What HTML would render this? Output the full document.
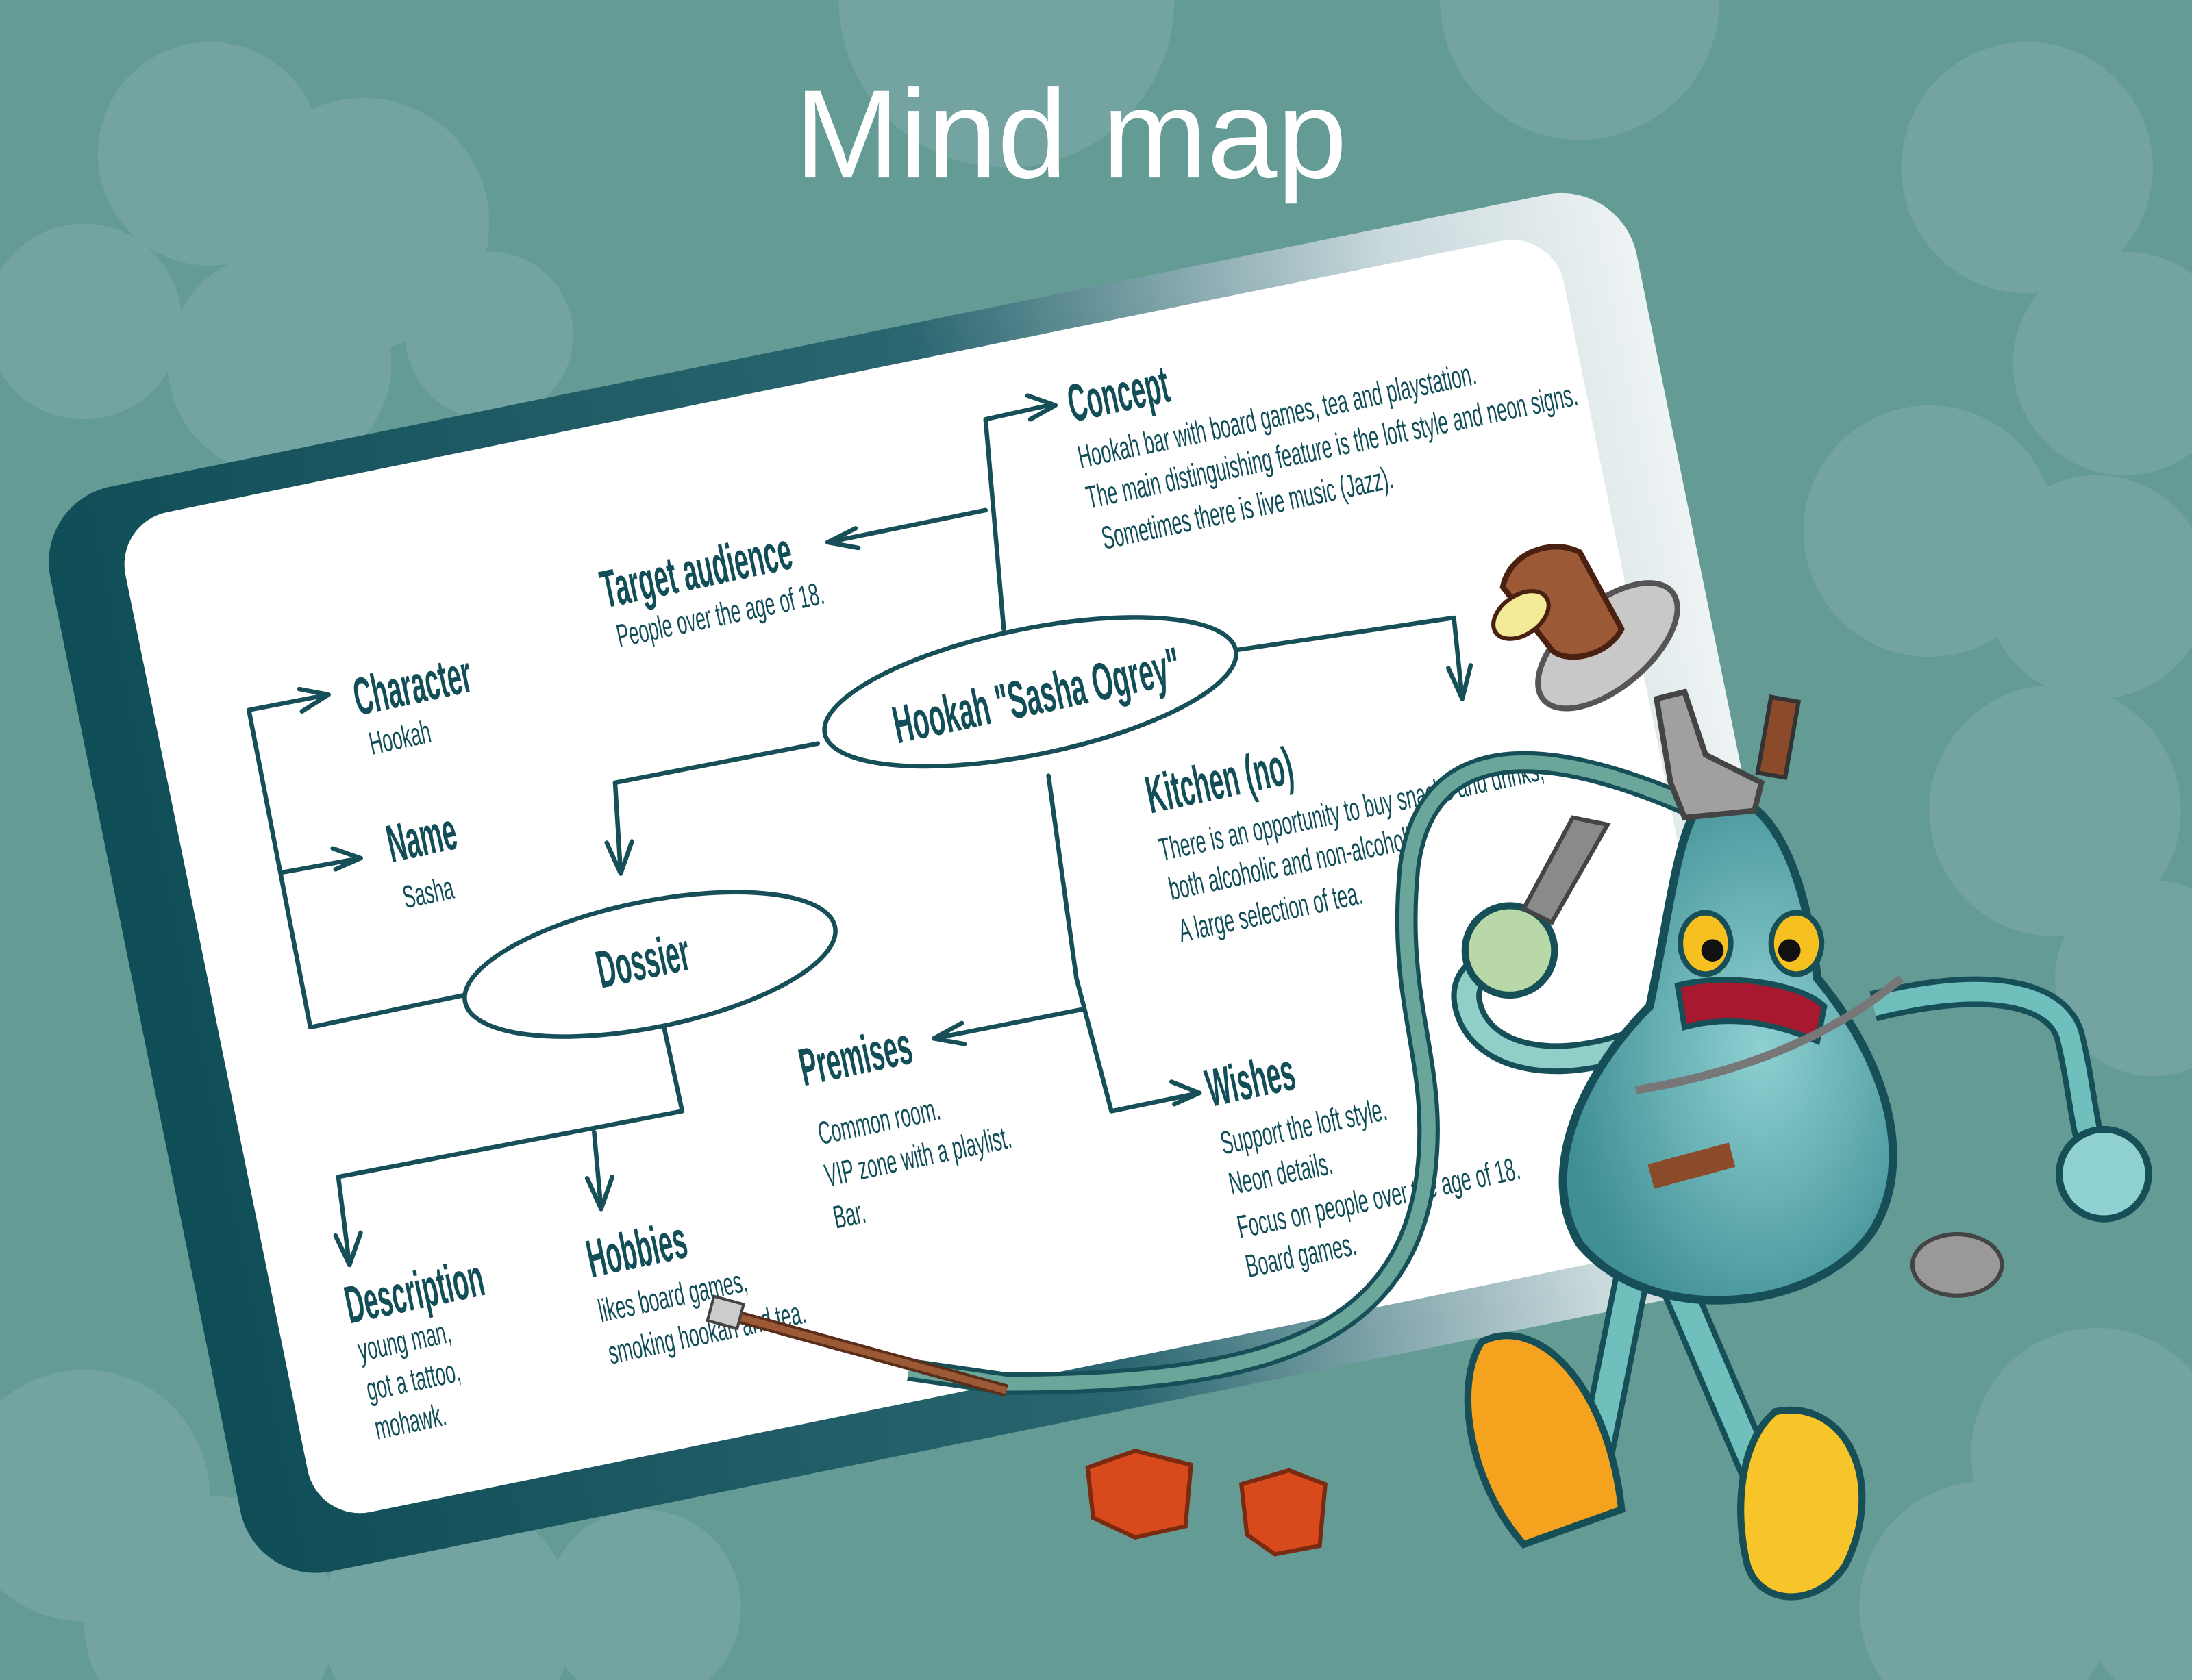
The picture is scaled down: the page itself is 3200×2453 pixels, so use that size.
<!DOCTYPE html>
<html><head><meta charset="utf-8"><style>
html,body{margin:0;padding:0;width:3200px;height:2453px;overflow:hidden;background:#649b94;}
svg{display:block}
.t{font-family:"Liberation Sans",sans-serif;fill:#124e58;font-weight:bold}
.s{font-family:"Liberation Sans",sans-serif;fill:#124e58}
.ln{fill:none;stroke:#174f58;stroke-width:3.2;stroke-linejoin:round;stroke-linecap:round}
</style></head><body>
<svg width="3200" height="2453" viewBox="0 0 1568 1202" preserveAspectRatio="none">
<defs>
<linearGradient id="fr" x1="0" y1="0" x2="1" y2="0">
<stop offset="0" stop-color="#0f4d57"/><stop offset="0.55" stop-color="#2a6670"/><stop offset="0.85" stop-color="#c9d9dc"/><stop offset="1" stop-color="#eef3f4"/></linearGradient>
<radialGradient id="bd" cx="0.6" cy="0.5" r="0.6"><stop offset="0" stop-color="#8fd0d2"/><stop offset="1" stop-color="#3f8f94"/></radialGradient>
</defs>
<rect width="1568" height="1202" fill="#649b94"/>
<g fill="#78a7a6" opacity="0.75">
<circle cx="60" cy="230" r="70"/><circle cx="150" cy="110" r="80"/><circle cx="260" cy="160" r="90"/><circle cx="350" cy="240" r="60"/><circle cx="200" cy="260" r="80"/>
<circle cx="720" cy="0" r="120"/><circle cx="1130" cy="0" r="100"/>
<circle cx="1450" cy="120" r="90"/><circle cx="1520" cy="260" r="80"/><circle cx="1380" cy="380" r="90"/><circle cx="1500" cy="420" r="80"/>
<circle cx="1470" cy="580" r="90"/><circle cx="1540" cy="700" r="70"/>
<circle cx="1500" cy="1040" r="90"/><circle cx="1420" cy="1150" r="90"/><circle cx="1560" cy="1150" r="70"/>
<circle cx="60" cy="1070" r="90"/><circle cx="150" cy="1160" r="90"/><circle cx="320" cy="1160" r="90"/><circle cx="460" cy="1150" r="70"/>
</g>
<text x="766" y="127" text-anchor="middle" font-family="Liberation Sans,sans-serif" font-size="90" fill="#ffffff">Mind map</text>
<g transform="rotate(-11.5 670 630)">
<rect x="92" y="236" width="1158" height="792" rx="55" fill="url(#fr)"/>
<rect x="145" y="262" width="1050" height="730" rx="38" fill="#ffffff"/>
</g>
<g class="ln">
<polyline points="718,450 705,300 750,290"/><polyline points="735,283 755,290 737,300"/>
<polyline points="705,365 592,388"/><polyline points="612,378 592,388 614,392"/>
<polyline points="885,465 1040,442 1046,500"/><polyline points="1036,478 1046,500 1052,476"/>
<polyline points="750,555 770,700 795,795 858,782"/><polyline points="838,774 858,782 840,790"/>
<polyline points="775,722 668,743"/><polyline points="688,732 668,743 690,747"/>
<polyline points="585,532 440,560 444,625"/><polyline points="434,603 444,625 452,602"/>
<polyline points="332,712 222,735 178,508 235,497"/><polyline points="214,493 235,497 216,509"/>
<polyline points="203,624 258,614"/><polyline points="238,607 258,614 240,622"/>
<polyline points="475,735 488,795 242,842 250,905"/><polyline points="240,884 250,905 258,882"/>
<polyline points="425,810 430,865"/><polyline points="420,843 430,865 438,842"/>
<ellipse cx="737" cy="495" rx="150" ry="45" transform="rotate(-11.5 737 495)"/>
<ellipse cx="465" cy="690" rx="135" ry="45" transform="rotate(-11.5 465 690)"/>
</g>
<g>
<text class="t" font-size="38" transform="translate(767,302) rotate(-12) scale(0.48,1)">Concept</text>
<text class="s" font-size="23" transform="translate(773,335) rotate(-12) scale(0.56,1)">Hookah bar with board games, tea and playstation.</text>
<text class="s" font-size="23" transform="translate(779,364) rotate(-12) scale(0.56,1)">The main distinguishing feature is the loft style and neon signs.</text>
<text class="s" font-size="23" transform="translate(790,393) rotate(-12) scale(0.56,1)">Sometimes there is live music (Jazz).</text>
<text class="t" font-size="38" transform="translate(433,435) rotate(-12) scale(0.48,1)">Target audience</text>
<text class="s" font-size="23" transform="translate(443,463) rotate(-12) scale(0.56,1)">People over the age of 18.</text>
<text class="t" font-size="38" transform="translate(256,512) rotate(-12) scale(0.48,1)">Character</text>
<text class="s" font-size="23" transform="translate(266,540) rotate(-12) scale(0.56,1)">Hookah</text>
<text class="t" font-size="38" transform="translate(280,617) rotate(-12) scale(0.48,1)">Name</text>
<text class="s" font-size="23" transform="translate(290,650) rotate(-12) scale(0.56,1)">Sasha</text>
<text class="t" font-size="38" transform="translate(642,532) rotate(-12) scale(0.5,1)">Hookah "Sasha Ogrey"</text>
<text class="t" font-size="38" transform="translate(430,707) rotate(-12) scale(0.48,1)">Dossier</text>
<text class="t" font-size="38" transform="translate(823,582) rotate(-12) scale(0.48,1)">Kitchen (no)</text>
<text class="s" font-size="23" transform="translate(831,616) rotate(-12) scale(0.56,1)">There is an opportunity to buy snacks and drinks,</text>
<text class="s" font-size="23" transform="translate(838,644) rotate(-12) scale(0.56,1)">both alcoholic and non-alcoholic.</text>
<text class="s" font-size="23" transform="translate(845,674) rotate(-12) scale(0.56,1)">A large selection of tea.</text>
<text class="t" font-size="38" transform="translate(575,777) rotate(-12) scale(0.48,1)">Premises</text>
<text class="s" font-size="23" transform="translate(587,819) rotate(-12) scale(0.56,1)">Common room.</text>
<text class="s" font-size="23" transform="translate(592,849) rotate(-12) scale(0.56,1)">VIP zone with a playlist.</text>
<text class="s" font-size="23" transform="translate(598,879) rotate(-12) scale(0.56,1)">Bar.</text>
<text class="t" font-size="38" transform="translate(866,792) rotate(-12) scale(0.48,1)">Wishes</text>
<text class="s" font-size="23" transform="translate(875,826) rotate(-12) scale(0.56,1)">Support the loft style.</text>
<text class="s" font-size="23" transform="translate(881,855) rotate(-12) scale(0.56,1)">Neon details.</text>
<text class="s" font-size="23" transform="translate(887,886) rotate(-12) scale(0.56,1)">Focus on people over the age of 18.</text>
<text class="s" font-size="23" transform="translate(893,914) rotate(-12) scale(0.56,1)">Board games.</text>
<text class="t" font-size="38" transform="translate(250,947) rotate(-12) scale(0.48,1)">Description</text>
<text class="s" font-size="23" transform="translate(258,974) rotate(-12) scale(0.56,1)">young man,</text>
<text class="s" font-size="23" transform="translate(264,1002) rotate(-12) scale(0.56,1)">got a tattoo,</text>
<text class="s" font-size="23" transform="translate(270,1030) rotate(-12) scale(0.56,1)">mohawk.</text>
<text class="t" font-size="38" transform="translate(423,914) rotate(-12) scale(0.48,1)">Hobbies</text>
<text class="s" font-size="23" transform="translate(430,946) rotate(-12) scale(0.56,1)">likes board games,</text>
<text class="s" font-size="23" transform="translate(437,976) rotate(-12) scale(0.56,1)">smoking hookah and tea.</text>
</g>
<polygon points="778,1050 812,1038 852,1048 848,1092 812,1100 782,1086" fill="#d8491c" stroke="#7a2a10" stroke-width="3"/>
<polygon points="888,1062 922,1052 948,1062 944,1106 912,1112 892,1098" fill="#d8491c" stroke="#7a2a10" stroke-width="3"/>
<path d="M1205,575 C1100,530 1020,530 1008,620 C998,720 1030,760 1020,840 C1005,960 900,990 720,990 L650,980" fill="none" stroke="#174f58" stroke-width="16"/>
<path d="M1205,575 C1100,530 1020,530 1008,620 C998,720 1030,760 1020,840 C1005,960 900,990 720,990 L650,980" fill="none" stroke="#6aa79a" stroke-width="10"/>
<line x1="520" y1="940" x2="720" y2="995" stroke="#5a2e1a" stroke-width="9"/>
<line x1="520" y1="940" x2="720" y2="995" stroke="#9b5a35" stroke-width="5"/>
<rect x="508" y="930" width="22" height="18" fill="#ccc" stroke="#444" stroke-width="2" transform="rotate(15 519 939)"/>
<path d="M1170,900 L1140,1050 M1200,920 L1260,1060" stroke="#174f58" stroke-width="26" fill="none"/>
<path d="M1170,900 L1140,1050 M1200,920 L1260,1060" stroke="#6fbfbd" stroke-width="18" fill="none"/>
<path d="M1060,960 C1100,940 1150,990 1160,1080 L1090,1105 C1050,1060 1040,990 1060,960Z" fill="#f5a21e" stroke="#174f58" stroke-width="5"/>
<path d="M1270,1010 C1320,1000 1350,1060 1320,1120 C1300,1150 1260,1150 1250,1120 C1240,1080 1245,1030 1270,1010Z" fill="#f7c52a" stroke="#174f58" stroke-width="5"/>
<path d="M1185,740 C1120,770 1060,760 1050,720 C1045,700 1060,690 1075,690" fill="none" stroke="#174f58" stroke-width="22"/>
<path d="M1185,740 C1120,770 1060,760 1050,720 C1045,700 1060,690 1075,690" fill="none" stroke="#8fcfc8" stroke-width="14"/>
<path d="M1340,720 C1420,700 1470,710 1480,740 C1490,780 1490,810 1500,830" fill="none" stroke="#174f58" stroke-width="22"/>
<path d="M1340,720 C1420,700 1470,710 1480,740 C1490,780 1490,810 1500,830" fill="none" stroke="#6fbfbd" stroke-width="14"/>
<circle cx="1080" cy="680" r="32" fill="#b9d8a8" stroke="#174f58" stroke-width="5"/>
<circle cx="1505" cy="840" r="32" fill="#8fd0d0" stroke="#174f58" stroke-width="5"/>
<ellipse cx="1400" cy="905" rx="32" ry="22" fill="#999" stroke="#444" stroke-width="3"/>
<path d="M1220,570 C1260,560 1290,610 1300,700 C1350,760 1370,830 1340,880 C1300,940 1180,950 1130,890 C1100,840 1130,770 1180,720 C1195,650 1200,590 1220,570Z" fill="url(#bd)" stroke="#174f58" stroke-width="6"/>
<ellipse cx="1220" cy="675" rx="18" ry="22" fill="#f5c020" stroke="#174f58" stroke-width="4"/>
<ellipse cx="1285" cy="675" rx="18" ry="22" fill="#f5c020" stroke="#174f58" stroke-width="4"/>
<circle cx="1225" cy="680" r="8" fill="#111"/><circle cx="1280" cy="680" r="8" fill="#111"/>
<path d="M1200,705 C1240,695 1290,705 1305,720 L1300,745 C1260,728 1230,728 1205,735Z" fill="#a8182e" stroke="#174f58" stroke-width="4"/>
<path d="M1170,780 C1230,770 1300,750 1360,700" fill="none" stroke="#777" stroke-width="6"/>
<rect x="1180" y="825" width="60" height="18" fill="#8b4a2a" transform="rotate(-15 1210 834)"/>
<path d="M1195,560 L1185,500 L1205,495 L1220,540 L1260,560 L1255,580 L1205,585Z" fill="#a0a0a0" stroke="#444" stroke-width="4"/>
<ellipse cx="1150" cy="462" rx="60" ry="30" fill="#c8c8c8" stroke="#555" stroke-width="4" transform="rotate(-40 1150 462)"/>
<path d="M1075,420 C1080,395 1110,385 1130,395 L1160,450 C1150,470 1120,475 1110,465Z" fill="#9b5a35" stroke="#4a2010" stroke-width="4"/>
<ellipse cx="1088" cy="440" rx="22" ry="14" fill="#f3ea98" stroke="#4a2010" stroke-width="3" transform="rotate(-35 1088 440)"/>
<rect x="1262" y="500" width="20" height="55" fill="#8b4a2a" stroke="#333" stroke-width="3" transform="rotate(10 1272 527)"/>
<path d="M1090,650 L1125,585 L1150,590 L1110,660Z" fill="#8a8a8a" stroke="#444" stroke-width="3"/>
</svg>
</body></html>
